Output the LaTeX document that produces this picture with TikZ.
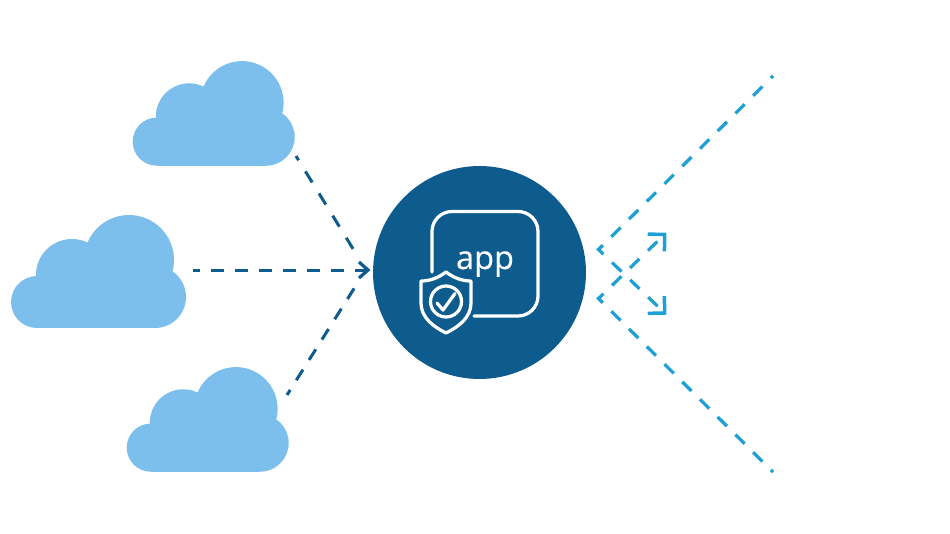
\documentclass[tikz,border=0pt]{standalone}
\usepackage{xcolor}
\usepackage{fontspec}
\newfontfamily\appfont[FakeBold=0.35]{Open Sans}
\usetikzlibrary{arrows.meta, calc}
\definecolor{hubblue}{HTML}{0E5C8E}
\definecolor{cloudblue}{HTML}{7DBFEC}
\definecolor{linkblue}{HTML}{1E9FD5}
\pgfdeclarearrow{
  name=Elbow,
  defaults={length=0.24cm, width=0.48cm, line width=0.07cm},
  setup code={
    \pgfarrowssettipend{0pt}
    \pgfarrowssetlineend{-0.5\pgflinewidth}
    \pgfarrowssetbackend{-\pgfarrowlength}
    \pgfarrowssavethe\pgfarrowlength
    \pgfarrowssavethe\pgfarrowwidth
    \pgfarrowssavethe\pgfarrowlinewidth
  },
  parameters={\the\pgfarrowlength,\the\pgfarrowwidth,\the\pgfarrowlinewidth},
  drawing code={
    \pgfsetlinewidth{\pgfarrowlinewidth}
    \pgfsetdash{}{0pt}
    \pgfsetmiterjoin
    \pgfpathmoveto{\pgfpoint{-\pgfarrowlength}{0.5\pgfarrowwidth}}
    \pgfpathlineto{\pgfpointorigin}
    \pgfpathlineto{\pgfpoint{-\pgfarrowlength}{-0.5\pgfarrowwidth}}
    \pgfusepathqstroke
  }
}
\tikzset{
  cloudshape/.pic={
    \fill[cloudblue] (37,302) circle (26);
    \fill[cloudblue] (72,275) circle (36);
    \fill[cloudblue] (129,260) circle (45);
    \fill[cloudblue] (155,297) circle (31);
    \fill[cloudblue] (37,285) rectangle (155,328);
  },
  inlink/.style={draw=hubblue, line width=0.06cm},
  outlink/.style={draw=linkblue, line width=0.065cm, dash pattern=on 0.26cm off 0.24cm, dash phase=0.2cm, -{Elbow}},
  iconline/.style={draw=white, line width=0.065cm, line cap=round, line join=round}
}

\begin{document}
\begin{tikzpicture}[x=0.02cm, y=-0.02cm]
  \useasboundingbox (0,0) rectangle (950,534);
  % clouds
  \pic[scale=0.926] at (122.5,-138) {cloudshape};
  \pic at (0,0) {cloudshape};
  \pic[scale=0.926] at (116.5,168) {cloudshape};
  \coordinate (cloudtop) at (296,156);
  \coordinate (cloudmid) at (193,270);
  \coordinate (cloudlow) at (287,395);
  % hub
  \node[circle, fill=hubblue, minimum size=4.26cm, inner sep=0pt] (hub) at (479.5,272.5) {};
  \coordinate (hubin) at (368,270);
  \coordinate (hubup) at (355,252);
  \coordinate (hubdown) at (355,287);
  \draw[iconline, rounded corners=0.4cm] (432,272) -- (432,211.5) -- (538,211.5) -- (538,316) -- (474,316);
  \node[text=white, inner sep=0pt, anchor=base, font=\appfont\fontsize{18.5}{20}\selectfont] (applabel) at (485,269) {app};
  % shield
  \draw[iconline] (446,272) .. controls (438,278) and (430,281) .. (421,281) -- (421,303) .. controls (421,318) and (434,327) .. (446,333) .. controls (458,327) and (471,318) .. (471,303) -- (471,281) .. controls (462,281) and (454,278) .. (446,272) -- cycle;
  \node[circle, draw=white, line width=0.065cm, minimum size=0.62cm, inner sep=0pt] (shieldring) at (446,301.5) {};
  \draw[iconline] (437,303) -- (443,310) -- (455,293.5);
  % links in
  \draw[inlink, dash pattern=on 0.26cm off 0.26cm, dash phase=0.16cm] (cloudtop) -- (hubup);
  \draw[inlink, dash pattern=on 0.26cm off 0.22cm, dash phase=0.12cm, -{Elbow[length=0.18cm, width=0.32cm, line width=0.065cm]}] (cloudmid) -- (hubin);
  \draw[inlink, dash pattern=on 0.25cm off 0.23cm, dash phase=0.13cm] (cloudlow) -- (hubdown);
  % links out
  \coordinate (farup) at (773,76);
  \coordinate (bendup) at (598.5,249.5);
  \coordinate (tipdown) at (664.7,313);
  \coordinate (fardown) at (773,472);
  \coordinate (benddown) at (598.5,298.5);
  \coordinate (tipup) at (664.7,234.4);
  \draw[outlink] (farup) -- (bendup) -- (tipdown);
  \draw[outlink] (fardown) -- (benddown) -- (tipup);
\end{tikzpicture}
\end{document}
